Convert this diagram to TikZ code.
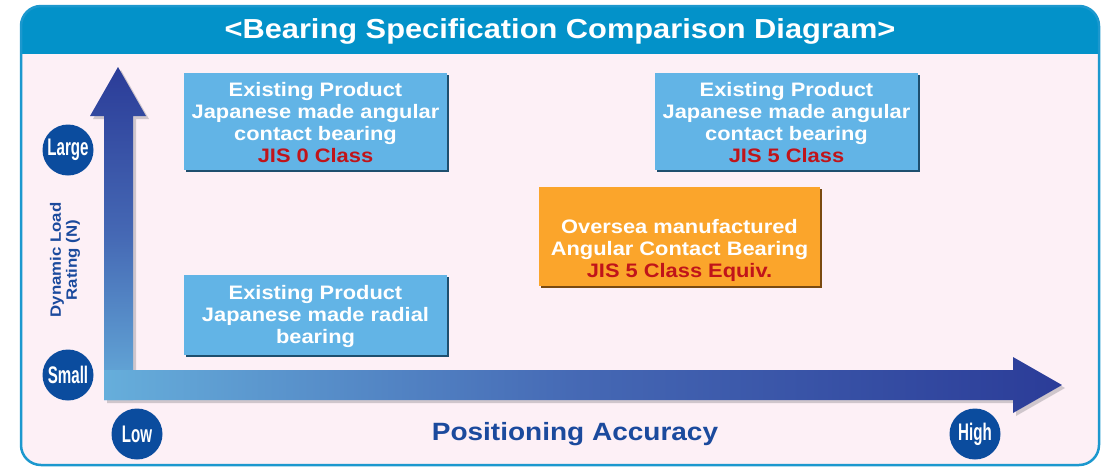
\documentclass[tikz,border=0pt]{standalone}
\usepackage{fontspec}
\setmainfont{Liberation Sans}
\newfontfamily\widefont[FakeStretch=1.12]{Liberation Sans}
\definecolor{bandblue}{HTML}{0392C9}
\definecolor{frameblue}{HTML}{1C98CE}
\definecolor{pinkbg}{HTML}{FDF0F6}
\definecolor{boxblue}{HTML}{62B4E6}
\definecolor{boxshade}{HTML}{1E4F6E}
\definecolor{boxorange}{HTML}{FBA52B}
\definecolor{orangeshade}{HTML}{7A4A10}
\definecolor{jisred}{HTML}{C0141A}
\definecolor{badgeblue}{HTML}{0B4C9E}
\definecolor{labelblue}{HTML}{1B4A9D}
\definecolor{arrowdark}{HTML}{2B3C98}
\definecolor{arrowmid}{HTML}{4568B4}
\definecolor{arrowlight}{HTML}{66AEDB}
\definecolor{shadowgray}{HTML}{CFC6CC}
\newcommand{\sqz}[1]{\scalebox{0.63}[1]{#1}}
\tikzset{
  badge/.style={circle, fill=badgeblue, minimum size=51pt, inner sep=0pt, text=white,
    font=\bfseries\fontsize{24}{24}\selectfont},
  bluebox/.style={fill=boxblue, draw=none, minimum width=263pt, inner sep=0pt},
  orangebox/.style={fill=boxorange, draw=none, minimum width=281pt, minimum height=99pt, inner sep=0pt},
  boxtext/.style={text=white, align=center, inner sep=0pt,
    font=\widefont\bfseries\fontsize{19.5}{22}\selectfont},
}
\begin{document}
\begin{tikzpicture}[x=1pt,y=-1pt]
\useasboundingbox (0,0) rectangle (1110,467);
% frame
\fill[pinkbg, rounded corners=20pt] (21,6) rectangle (1099,465);
\begin{scope}
  \clip[rounded corners=20pt] (21,6) rectangle (1099,465);
  \fill[bandblue] (21,6) rectangle (1099,54);
\end{scope}
\draw[frameblue, line width=2.5pt, rounded corners=20pt] (21,6) rectangle (1099,465);
\node[text=white, font=\widefont\bfseries\fontsize{27.5}{27.5}\selectfont] (title) at (560,31) {<Bearing Specification Comparison Diagram>};

% arrow shadow
\fill[shadowgray] (107,403) -- (107,119) -- (93,119) -- (121,70) -- (149,119) -- (136,119) -- (136,373)
  -- (1016,373) -- (1016,360) -- (1065,388) -- (1016,416) -- (1016,403) -- cycle;
% vertical arrow
\shade[top color=arrowdark, bottom color=arrowlight, middle color=arrowmid]
  (104,400) -- (104,116) -- (90,116) -- (118,67) -- (146,116) -- (133,116) -- (133,400) -- cycle;
% horizontal arrow
\shade[left color=arrowlight, right color=arrowdark, middle color=arrowmid]
  (104,370) -- (1013,370) -- (1013,357) -- (1062,385) -- (1013,413) -- (1013,400) -- (104,400) -- cycle;

% badges
\node[badge] (large) at (68,150) {\sqz{Large}};
\node[badge] (small) at (68,375) {\sqz{Small}};
\node[badge] (low) at (137,434) {\sqz{Low}};
\node[badge] (high) at (975,434) {\sqz{High}};

% axis labels
\node[rotate=90, text=labelblue, align=center, font=\widefont\bfseries\fontsize{15}{16}\selectfont] (ylabel) at (65,260) {Dynamic Load\\Rating (N)};
\node[text=labelblue, font=\widefont\bfseries\fontsize{25}{25}\selectfont] (xlabel) at (575,434) {Positioning Accuracy};

% boxes
\fill[boxshade] (186,75) rectangle (449,172);
\node[bluebox, minimum height=97pt] (b1) at (315.5,121.5) {};
\node[boxtext] (t1) at (315.5,123) {Existing Product\\Japanese made angular\\contact bearing\\\textcolor{jisred}{JIS 0 Class}};

\fill[boxshade] (657,75) rectangle (920,172);
\node[bluebox, minimum height=97pt] (b2) at (786.5,121.5) {};
\node[boxtext] (t2) at (786.5,123) {Existing Product\\Japanese made angular\\contact bearing\\\textcolor{jisred}{JIS 5 Class}};

\fill[orangeshade] (541,189) rectangle (822,288);
\node[orangebox] (b3) at (679.5,236.5) {};
\node[boxtext] (t3) at (679.5,250) {Oversea manufactured\\Angular Contact Bearing\\\textcolor{jisred}{JIS 5 Class Equiv.}};

\fill[boxshade] (186,277) rectangle (449,357);
\node[bluebox, minimum height=80pt] (b4) at (315.5,315) {};
\node[boxtext] (t4) at (315.5,316.5) {Existing Product\\Japanese made radial\\bearing};
\end{tikzpicture}
\end{document}
